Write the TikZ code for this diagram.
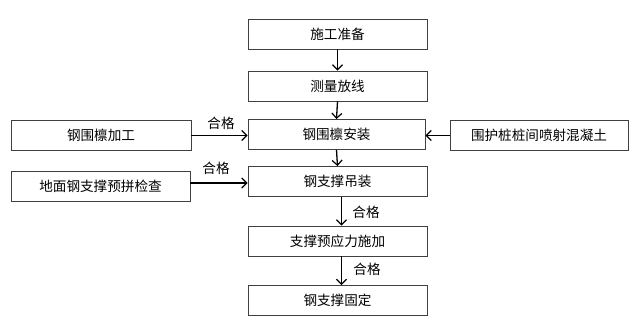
\documentclass[tikz,border=0pt]{standalone}
\usepackage{fontspec}
\newfontfamily\cjk{Noto Sans CJK SC}
\usetikzlibrary{arrows.meta}
\begin{document}
\begin{tikzpicture}[x=1pt,y=-1pt,
  box/.style={draw=black!75, line width=0.9pt, minimum height=30pt, inner sep=0pt, font=\cjk\fontsize{13.6}{15}\selectfont, fill=white},
  arr/.style={line width=1.3pt, -{Straight Barb[length=5pt,width=10pt,line width=1.2pt]}},
  lbl/.style={font=\cjk\fontsize{13.6}{15}\selectfont, inner sep=0pt}]
\useasboundingbox[fill=white] (0,0) rectangle (640,320);
\node[box, minimum width=179pt] (a) at (337.5,34) {施工准备};
\node[box, minimum width=179pt] (b) at (337.5,86) {测量放线};
\node[box, minimum width=177pt] (c) at (336.5,134.5) {钢围檩安装};
\node[box, minimum width=179pt] (d) at (337.5,181.5) {钢支撑吊装};
\node[box, minimum width=179pt] (e) at (337.5,241) {支撑预应力施加};
\node[box, minimum width=179pt] (f) at (337.5,300.5) {钢支撑固定};
\node[box, minimum width=180pt] (g) at (101,135.5) {钢围檩加工};
\node[box, minimum width=179pt] (h) at (100.5,186.5) {地面钢支撑预拼检查};
\node[box, minimum width=178pt] (k) at (539,135.5) {围护桩桩间喷射混凝土};
\draw[arr] (a.south) -- (b.north);
\draw[arr] (b.south) -- (c.north);
\draw[arr] (c.south) -- (d.north);
\draw[arr] ([xshift=4pt]d.south) -- ([xshift=4pt]e.north);
\draw[arr] ([xshift=4pt]e.south) -- ([xshift=4pt]f.north);
\draw[arr] (g.east) -- (c.west |- g.east);
\draw[arr] (h.east |- 0,183) -- (d.west |- 0,183);
\draw[arr] (k.west) -- (c.east |- k.west);
\node[lbl] (l1) at (221,123) {合格};
\node[lbl] (l2) at (216,168) {合格};
\node[lbl] (l3) at (366,212) {合格};
\node[lbl] (l4) at (367,269) {合格};
\end{tikzpicture}
\end{document}
